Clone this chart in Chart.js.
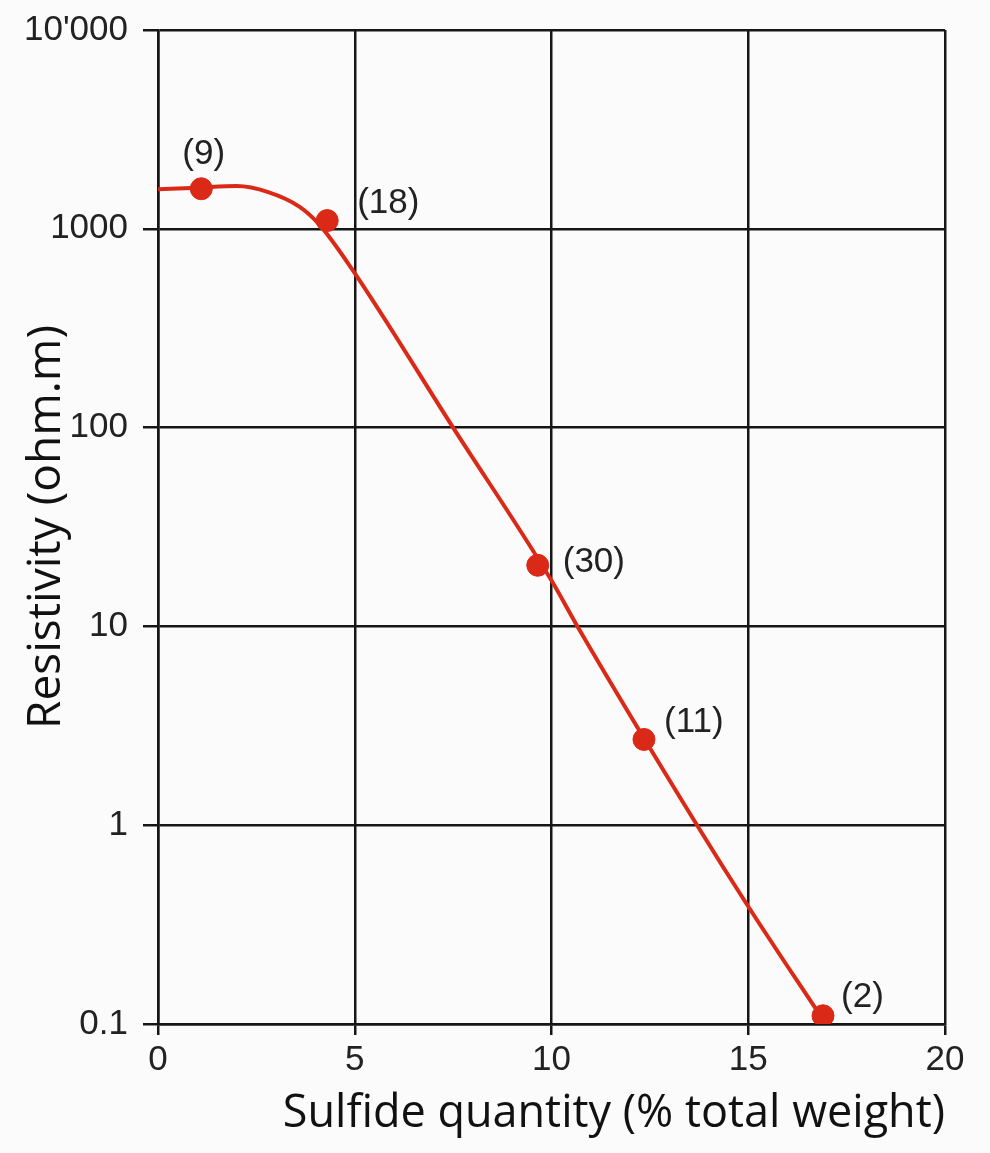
<!DOCTYPE html>
<html>
<head>
<meta charset="utf-8">
<script src="https://cdn.jsdelivr.net/npm/chart.js@4"></script>
<style>
  html, body { margin: 0; padding: 0; background: #fbfbfb; }
  #wrap { width: 990px; height: 1153px; }
</style>
</head>
<body>
<div id="wrap"><canvas id="resChart" width="990" height="1153"></canvas></div>
<script>
// measured samples: sulfide % vs resistivity, with number of samples
const sulfide = [1.1, 4.3, 9.65, 12.35, 16.9];
const resistivity = [1590, 1100, 20.3, 2.7, 0.11];
const sampleCounts = ['(9)', '(18)', '(30)', '(11)', '(2)'];

// fitted trend curve
const curveX = [0, 1, 2, 2.8, 3.6, 4.1, 4.9, 7.5, 10, 10.66, 13.7, 15, 16.9];
const curveY = [1580, 1610, 1640, 1530, 1290, 1050, 640, 100, 17, 10, 1, 0.39, 0.105];

const xTicks = [0, 5, 10, 15, 20];
const yTicks = [0.1, 1, 10, 100, 1000, 10000];

const red = '#da2a17';
const ink = '#161616';

const countLabels = {
    id: 'countLabels',
    afterDatasetsDraw(chart) {
        const meta = chart.getDatasetMeta(1);
        const offs = [[-19, -34], [30, -17], [25, -3], [20, -17], [18, -18]];
        const ctx = chart.ctx;
        ctx.save();
        ctx.font = '35px "Liberation Sans", Arial, sans-serif';
        ctx.fillStyle = '#222';
        ctx.textAlign = 'left';
        ctx.textBaseline = 'middle';
        meta.data.forEach((pt, i) => {
            ctx.fillText(sampleCounts[i], pt.x + offs[i][0], pt.y + offs[i][1]);
        });
        ctx.restore();
    }
};

new Chart(document.getElementById('resChart'), {
    type: 'scatter',
    data: {
        datasets: [{
            type: 'line',
            data: curveX.map((x, i) => ({ x: x, y: curveY[i] })),
            borderColor: red,
            borderWidth: 4,
            pointRadius: 0,
            cubicInterpolationMode: 'monotone',
            fill: false
        }, {
            data: sulfide.map((x, i) => ({ x: x, y: resistivity[i] })),
            backgroundColor: red,
            borderColor: red,
            pointRadius: 11,
            pointHoverRadius: 11
        }]
    },
    options: {
        responsive: false,
        animation: false,
        layout: { padding: { top: 30, right: 45, left: 0, bottom: 0 } },
        plugins: {
            legend: { display: false },
            tooltip: { enabled: false }
        },
        scales: {
            x: {
                type: 'linear',
                min: 0,
                max: 20,
                afterBuildTicks: (axis) => { axis.ticks = xTicks.map(v => ({ value: v })); },
                afterFit: (axis) => { axis.height = 129; },
                grid: { color: ink, lineWidth: 2.5, tickLength: 11 },
                border: { color: ink, width: 2.5 },
                ticks: {
                    color: '#222',
                    padding: 4,
                    maxRotation: 0,
                    font: { family: '"Liberation Sans", Arial, sans-serif', size: 35 }
                },
                title: {
                    display: true,
                    text: 'Sulfide quantity (% total weight)',
                    align: 'end',
                    color: '#111',
                    padding: { top: 0, bottom: 12 },
                    font: { family: '"Open Sans", sans-serif', size: 45 }
                }
            },
            y: {
                type: 'logarithmic',
                min: 0.1,
                max: 10000,
                afterBuildTicks: (axis) => { axis.ticks = yTicks.map(v => ({ value: v })); },
                afterFit: (axis) => {
                    axis.width = 158;
                    axis.paddingTop = 0;
                    axis.paddingBottom = 0;
                },
                grid: { color: ink, lineWidth: 2.5, tickLength: 15 },
                border: { color: ink, width: 2.5 },
                ticks: {
                    color: '#222',
                    padding: 15,
                    font: { family: '"Liberation Sans", Arial, sans-serif', size: 35 },
                    callback: (v) => v === 10000 ? "10'000" : String(v)
                },
                title: {
                    display: true,
                    text: 'Resistivity (ohm.m)',
                    color: '#111',
                    padding: { top: 19, bottom: 0 },
                    font: { family: '"Open Sans", sans-serif', size: 46 }
                }
            }
        }
    },
    plugins: [countLabels]
});
</script>
</body>
</html>
